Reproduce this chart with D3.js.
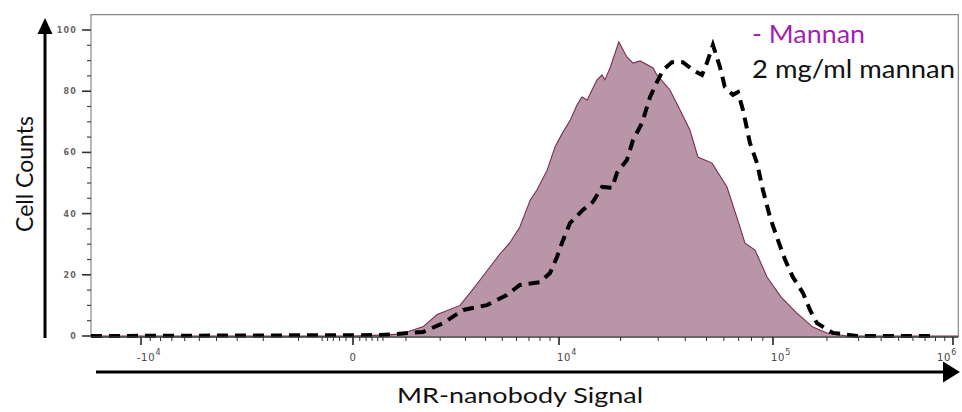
<!DOCTYPE html>
<html><head><meta charset="utf-8">
<script src="https://cdn.jsdelivr.net/npm/d3@7"></script>
<style>body{margin:0;background:#fff}svg{display:block}</style>
</head><body>
<svg id="chart" width="962" height="412"></svg>
<script>
// ---------- data ----------
const xDomainEnds = [-17300, 1070000];
const xMajorTicks = [-10000, 0, 10000, 100000, 1000000];
const xTickBase = ["-10", "0", "10", "10", "10"];
const xTickExp = ["4", "", "4", "5", "6"];
const xMinorTicks = [-9000, -8000, -7000, -6000, -5000, -4000, -3000, -2000, -1000,
  -500, -400, -300, -200, -100, 100, 200, 300, 400, 500,
  1000, 2000, 3000, 4000, 5000, 6000, 7000, 8000, 9000,
  20000, 30000, 40000, 50000, 60000, 70000, 80000, 90000,
  200000, 300000, 400000, 500000, 600000, 700000, 800000, 900000];
const yMajorTicks = [0, 20, 40, 60, 80, 100];
const yMinorTicks = [5, 10, 15, 25, 30, 35, 45, 50, 55, 65, 70, 75, 85, 90, 95];

// "- Mannan" (filled histogram)
const signalNoMannan = [-17300, 0, 450, 860, 1450, 1900, 2760, 3200, 3700, 4850, 5500, 6250,
  7100, 7700, 8700, 9550, 10400, 11400, 12300, 13000, 13800, 15400, 16300, 16800, 17800,
  19600, 21400, 22900, 24700, 28400, 29600, 34000, 37800, 42000, 45700, 53000, 62000,
  71000, 74700, 83000, 94000, 111000, 136000, 167000, 200000, 259000, 1070000];
const countNoMannan = [0, 0, 0.3, 0.6, 3, 7, 10, 14, 18.3, 26.8, 30.4, 35.6,
  44.4, 47.7, 54.2, 61.8, 66.3, 70.6, 75.5, 78.1, 77.1, 83.7, 85.3, 83.7, 87.6,
  96.1, 91.2, 89.2, 89.9, 87.6, 85.3, 80.4, 73.9, 67.3, 58.5, 56.5, 48.7,
  35.6, 30.4, 28.1, 19.3, 12.7, 7.5, 2.9, 1.0, 0, 0];

// "2 mg/ml mannan" (dashed)
const signalMannan = [-17300, 450, 1450, 2100, 2900, 4080, 5300, 6250, 8000, 9000, 9770,
  10350, 11350, 13150, 14700, 16300, 18200, 19200, 21400, 22900, 25200, 27500, 29600,
  31600, 34700, 39000, 43400, 47700, 50200, 53500, 57600, 60600, 65900, 69500, 73200,
  78700, 84700, 90100, 96900, 105000, 117000, 129000, 147000, 161000, 176000, 216000,
  294000, 750000];
const countMannan = [0, 0.3, 1.3, 4.2, 8.5, 10.1, 13.4, 16.7, 17.6, 20.6, 25.8,
  30.4, 36.9, 41.2, 43.8, 48.7, 48.4, 53.3, 57.5, 64.1, 69.6, 78.1, 83.0,
  86.9, 89.5, 89.5, 86.9, 85.3, 89.2, 95.1, 87.9, 81.4, 78.8, 79.7, 73.9,
  63.1, 56.5, 47.7, 38.9, 32.4, 24.8, 19.3, 14.1, 8.5, 4.2, 1.0,
  0, 0];

const legendLabels = ["- Mannan", "2 mg/ml mannan"];
const legendColors = ["#a31fb0", "#111111"];
const yTitle = "Cell Counts";
const xTitle = "MR-nanobody Signal";

// ---------- scales ----------
const svg = d3.select("#chart");
const x = d3.scaleSymlog().constant(1400)
  .domain(xMajorTicks)
  .range([141, 353, 559, 773, 953]);
const y = d3.scaleLinear().domain([0, 105]).range([336, 14.7]);

const pLeft = x(xDomainEnds[0]), pRight = x(xDomainEnds[1]);
const pTop = y(105), pBottom = y(0);

// ---------- frame ----------
svg.append("path")
  .attr("d", `M${pLeft},${pBottom + 1}V${pTop}H${pRight}V${pBottom + 1}`)
  .attr("fill", "none").attr("stroke", "#888").attr("stroke-width", 1.2);

// ---------- filled histogram ----------
const fillData = signalNoMannan.map((s, i) => [s, countNoMannan[i]]);
svg.append("path")
  .datum(fillData)
  .attr("d", d3.area().x(d => x(d[0])).y0(pBottom).y1(d => y(d[1])))
  .attr("fill", "#b896a8");
svg.append("path")
  .datum(fillData)
  .attr("d", d3.line().x(d => x(d[0])).y(d => y(d[1])))
  .attr("fill", "none").attr("stroke", "#7d2b52").attr("stroke-width", 1.1);

// ---------- dashed line ----------
const dashData = signalMannan.map((s, i) => [s, countMannan[i]]);
svg.append("path")
  .datum(dashData)
  .attr("d", d3.line().x(d => x(d[0])).y(d => y(d[1])))
  .attr("fill", "none").attr("stroke", "#000").attr("stroke-width", 4)
  .attr("stroke-dasharray", "11,7");

// ---------- x axis ----------
svg.append("line").attr("x1", pLeft).attr("x2", pRight).attr("y1", pBottom + 1).attr("y2", pBottom + 1)
  .attr("stroke", "#333").attr("stroke-width", 1.5);
svg.selectAll(".xminor").data(xMinorTicks).enter().append("line")
  .attr("x1", d => x(d)).attr("x2", d => x(d))
  .attr("y1", pBottom + 1).attr("y2", pBottom + 5)
  .attr("stroke", "#333").attr("stroke-width", 1);
svg.selectAll(".xmajor").data(xMajorTicks).enter().append("line")
  .attr("x1", d => x(d)).attr("x2", d => x(d))
  .attr("y1", pBottom + 1).attr("y2", pBottom + 9)
  .attr("stroke", "#222").attr("stroke-width", 1.6);
const xl = svg.selectAll(".xlab").data(xMajorTicks).enter().append("text")
  .attr("x", (d, i) => x(d) + (i === 1 ? 0 : (i === 4 ? -6 : 8)))
  .attr("y", 361)
  .attr("text-anchor", "middle")
  .attr("font-family", "DejaVu Sans, sans-serif")
  .attr("font-size", 10).attr("letter-spacing", 0.8).attr("fill", "#444");
xl.append("tspan").text((d, i) => xTickBase[i]);
xl.append("tspan").attr("dy", -6).attr("font-size", 8).text((d, i) => xTickExp[i]);

// ---------- y axis ----------
svg.selectAll(".yminor").data(yMinorTicks).enter().append("line")
  .attr("x1", pLeft - 4).attr("x2", pLeft)
  .attr("y1", d => y(d)).attr("y2", d => y(d))
  .attr("stroke", "#444").attr("stroke-width", 1.2);
svg.selectAll(".ymajor").data(yMajorTicks).enter().append("line")
  .attr("x1", pLeft - 9).attr("x2", pLeft)
  .attr("y1", d => y(d)).attr("y2", d => y(d))
  .attr("stroke", "#333").attr("stroke-width", 1.6);
svg.selectAll(".ylab").data(yMajorTicks).enter().append("text")
  .attr("x", 77).attr("y", d => y(d) + 3)
  .attr("text-anchor", "end")
  .attr("font-family", "DejaVu Sans, sans-serif").attr("font-weight", "bold")
  .attr("font-size", 8).attr("letter-spacing", 1.2).attr("fill", "#666")
  .text(d => d);

// ---------- arrows ----------
svg.append("line").attr("x1", 45).attr("x2", 45).attr("y1", 338).attr("y2", 30)
  .attr("stroke", "#000").attr("stroke-width", 3);
svg.append("path").attr("d", "M45,18L37.5,34L52.5,34Z").attr("fill", "#000");
svg.append("line").attr("x1", 96).attr("x2", 946).attr("y1", 372).attr("y2", 372)
  .attr("stroke", "#000").attr("stroke-width", 3);
svg.append("path").attr("d", "M960,372L943,361.5L943,382.5Z").attr("fill", "#000");

// ---------- titles ----------
svg.append("text")
  .attr("transform", "translate(33,174) rotate(-90)")
  .attr("text-anchor", "middle")
  .attr("font-family", "Lato, 'Open Sans', sans-serif").attr("font-size", 23)
  .attr("fill", "#111")
  .text(yTitle);
svg.append("text")
  .attr("x", 397).attr("y", 403)
  .attr("font-family", "Lato, 'Open Sans', sans-serif").attr("font-size", 21)
  .attr("textLength", 246).attr("lengthAdjust", "spacingAndGlyphs")
  .attr("fill", "#111")
  .text(xTitle);

// ---------- legend ----------
const legendY = [43, 78];
const legendW = [113, 203];
svg.selectAll(".leg").data(legendLabels).enter().append("text")
  .attr("x", 752).attr("y", (d, i) => legendY[i])
  .attr("font-family", "Lato, 'Open Sans', sans-serif").attr("font-size", 25)
  .attr("textLength", (d, i) => legendW[i]).attr("lengthAdjust", "spacingAndGlyphs")
  .attr("fill", (d, i) => legendColors[i])
  .text(d => d);
</script>
</body></html>
